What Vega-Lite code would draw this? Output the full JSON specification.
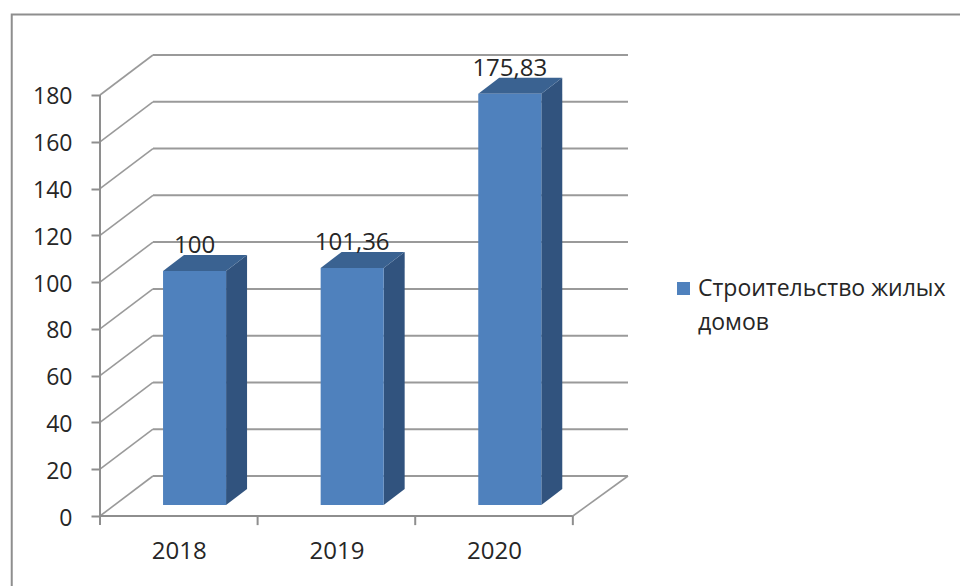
{
  "$schema": "https://vega.github.io/schema/vega-lite/v6.json",
  "width": 528,
  "height": 461,
  "autosize": "none",
  "padding": {"left": 100, "top": 55, "right": 332, "bottom": 70},
  "background": "white",
  "config": {
    "view": {"stroke": null},
    "style": {"guide-label": {"lineHeight": 34}}
  },
  "resolve": {"axis": {"x": "independent", "y": "independent"}},
  "datasets": {
    "bars": [
      {"year": 2018, "value": 100, "series": "Строительство жилых домов"},
      {"year": 2019, "value": 101.36, "series": "Строительство жилых домов"},
      {"year": 2020, "value": 175.83, "series": "Строительство жилых домов"}
    ],
    "ticks": [
      {"tick": 0}, {"tick": 20}, {"tick": 40}, {"tick": 60}, {"tick": 80},
      {"tick": 100}, {"tick": 120}, {"tick": 140}, {"tick": 160}, {"tick": 180}
    ],
    "categoryEdges": [{"edge": 2017.5}, {"edge": 2018.5}, {"edge": 2019.5}, {"edge": 2020.5}],
    "one": [{"row": 1}]
  },
  "layer": [
    {
      "data": {"name": "one"},
      "mark": {"type": "rect", "filled": false, "stroke": "#8e8e8e", "strokeWidth": 2},
      "encoding": {
        "x": {"datum": 2016.94, "type": "quantitative", "scale": {"domain": [2017.5, 2020.85], "nice": false, "zero": false}, "axis": null},
        "x2": {"datum": 2024},
        "y": {"datum": 214.4, "type": "quantitative", "scale": {"domain": [0, 197.1], "nice": false, "zero": false}, "axis": null},
        "y2": {"datum": -60}
      }
    },
    {
      "data": {"name": "ticks"},
      "transform": [{"calculate": "datum.tick + 17.1", "as": "back"}],
      "mark": {"type": "rule", "stroke": "#9a9a9a", "strokeWidth": 2},
      "encoding": {
        "x": {"datum": 2017.836, "type": "quantitative", "scale": {"domain": [2017.5, 2020.85], "nice": false, "zero": false}, "axis": null},
        "x2": {"datum": 2020.85},
        "y": {"field": "back", "type": "quantitative", "scale": {"domain": [0, 197.1], "nice": false, "zero": false}, "axis": null}
      }
    },
    {
      "data": {"name": "ticks"},
      "transform": [{"calculate": "datum.tick + 17.1", "as": "back"}],
      "mark": {"type": "rule", "stroke": "#9a9a9a", "strokeWidth": 1.6},
      "encoding": {
        "x": {"datum": 2017.5, "type": "quantitative", "scale": {"domain": [2017.5, 2020.85], "nice": false, "zero": false}, "axis": null},
        "x2": {"datum": 2017.836},
        "y": {"field": "tick", "type": "quantitative", "scale": {"domain": [0, 197.1], "nice": false, "zero": false},
          "axis": {"values": [0, 20, 40, 60, 80, 100, 120, 140, 160, 180], "title": null, "grid": false, "domain": false, "tickSize": 9, "tickWidth": 2, "tickColor": "#8e8e8e", "labelFont": "Open Sans", "labelFontSize": 23, "labelColor": "#262626", "labelPadding": 19, "labelOffset": 2}},
        "y2": {"field": "back"}
      }
    },
    {
      "data": {"name": "one"},
      "mark": {"type": "rule", "stroke": "#9a9a9a", "strokeWidth": 1.6},
      "encoding": {
        "x": {"datum": 2020.5, "type": "quantitative", "scale": {"domain": [2017.5, 2020.85], "nice": false, "zero": false}, "axis": null},
        "x2": {"datum": 2020.85},
        "y": {"datum": 0, "type": "quantitative", "scale": {"domain": [0, 197.1], "nice": false, "zero": false}, "axis": null},
        "y2": {"datum": 17.1}
      }
    },
    {
      "data": {"name": "one"},
      "mark": {"type": "rule", "stroke": "#8e8e8e", "strokeWidth": 2},
      "encoding": {
        "x": {"datum": 2017.5, "type": "quantitative", "scale": {"domain": [2017.5, 2020.85], "nice": false, "zero": false}, "axis": null},
        "y": {"datum": 0, "type": "quantitative", "scale": {"domain": [0, 197.1], "nice": false, "zero": false}, "axis": null},
        "y2": {"datum": 180}
      }
    },
    {
      "data": {"name": "one"},
      "mark": {"type": "rule", "stroke": "#8e8e8e", "strokeWidth": 2},
      "encoding": {
        "x": {"datum": 2017.5, "type": "quantitative", "scale": {"domain": [2017.5, 2020.85], "nice": false, "zero": false},
          "axis": {"values": [2018, 2019, 2020], "format": "d", "title": null, "grid": false, "domain": false, "ticks": false, "labelFont": "Open Sans", "labelFontSize": 24, "labelColor": "#262626", "labelPadding": 23}},
        "x2": {"datum": 2020.5},
        "y": {"datum": 0, "type": "quantitative", "scale": {"domain": [0, 197.1], "nice": false, "zero": false}, "axis": null}
      }
    },
    {
      "data": {"name": "categoryEdges"},
      "mark": {"type": "rule", "stroke": "#8e8e8e", "strokeWidth": 2},
      "encoding": {
        "x": {"field": "edge", "type": "quantitative", "scale": {"domain": [2017.5, 2020.85], "nice": false, "zero": false}, "axis": null},
        "y": {"datum": 0, "type": "quantitative", "scale": {"domain": [0, 197.1], "nice": false, "zero": false}, "axis": null},
        "y2": {"datum": -3.9}
      }
    },
    {
      "data": {"name": "bars"},
      "transform": [
        {"calculate": "[0, 1]", "as": "d"},
        {"flatten": ["d"]},
        {"calculate": "datum.year + 0.3 + datum.d * 0.133", "as": "sx"},
        {"calculate": "datum.value + 4.7 + datum.d * 6.84", "as": "stop"},
        {"calculate": "4.7 + datum.d * 6.84", "as": "sbase"}
      ],
      "mark": {"type": "area", "color": "#31537e", "interpolate": "linear"},
      "encoding": {
        "x": {"field": "sx", "type": "quantitative", "scale": {"domain": [2017.5, 2020.85], "nice": false, "zero": false}, "axis": null},
        "y": {"field": "stop", "type": "quantitative", "scale": {"domain": [0, 197.1], "nice": false, "zero": false}, "axis": null},
        "y2": {"field": "sbase"},
        "detail": {"field": "year"}
      }
    },
    {
      "data": {"name": "bars"},
      "transform": [
        {"calculate": "[0, 1]", "as": "d"},
        {"flatten": ["d"]},
        {"calculate": "datum.year - 0.1 + datum.d * 0.133", "as": "tl"},
        {"calculate": "datum.year + 0.3 + datum.d * 0.133", "as": "tr"},
        {"calculate": "datum.value + 4.7 + datum.d * 6.84", "as": "ty"}
      ],
      "mark": {"type": "area", "color": "#3a6291", "orient": "horizontal", "interpolate": "linear"},
      "encoding": {
        "x": {"field": "tl", "type": "quantitative", "scale": {"domain": [2017.5, 2020.85], "nice": false, "zero": false}, "axis": null},
        "x2": {"field": "tr"},
        "y": {"field": "ty", "type": "quantitative", "scale": {"domain": [0, 197.1], "nice": false, "zero": false}, "axis": null},
        "detail": {"field": "year"}
      }
    },
    {
      "data": {"name": "bars"},
      "transform": [
        {"calculate": "datum.year - 0.1", "as": "left"},
        {"calculate": "datum.year + 0.3", "as": "right"},
        {"calculate": "datum.value + 4.7", "as": "top"},
        {"calculate": "4.7", "as": "base"}
      ],
      "mark": {"type": "rect"},
      "encoding": {
        "x": {"field": "left", "type": "quantitative", "scale": {"domain": [2017.5, 2020.85], "nice": false, "zero": false}, "axis": null},
        "x2": {"field": "right"},
        "y": {"field": "top", "type": "quantitative", "scale": {"domain": [0, 197.1], "nice": false, "zero": false}, "axis": null},
        "y2": {"field": "base"},
        "color": {
          "field": "series",
          "type": "nominal",
          "scale": {"domain": ["Строительство жилых домов"], "range": ["#4f81bd"]},
          "legend": {
            "title": null,
            "orient": "none",
            "legendX": 572,
            "legendY": 222,
            "padding": 0,
            "symbolType": "square",
            "symbolSize": 169,
            "symbolStrokeWidth": 0,
            "labelFont": "Open Sans",
            "labelFontSize": 23,
            "labelColor": "#262626",
            "labelLimit": 300,
            "labelOffset": 3,
            "labelExpr": "['Строительство жилых', 'домов']"
          }
        }
      }
    },
    {
      "data": {"name": "bars"},
      "transform": [
        {"calculate": "datum.year + 0.1", "as": "mid"},
        {"calculate": "datum.value + 4.7", "as": "top"},
        {"calculate": "replace(format(datum.value, '.2~f'), '.', ',')", "as": "label"}
      ],
      "mark": {"type": "text", "font": "Open Sans", "fontSize": 24, "color": "#262626", "baseline": "alphabetic", "yOffset": -18},
      "encoding": {
        "x": {"field": "mid", "type": "quantitative", "scale": {"domain": [2017.5, 2020.85], "nice": false, "zero": false}, "axis": null},
        "y": {"field": "top", "type": "quantitative", "scale": {"domain": [0, 197.1], "nice": false, "zero": false}, "axis": null},
        "text": {"field": "label"}
      }
    }
  ]
}
